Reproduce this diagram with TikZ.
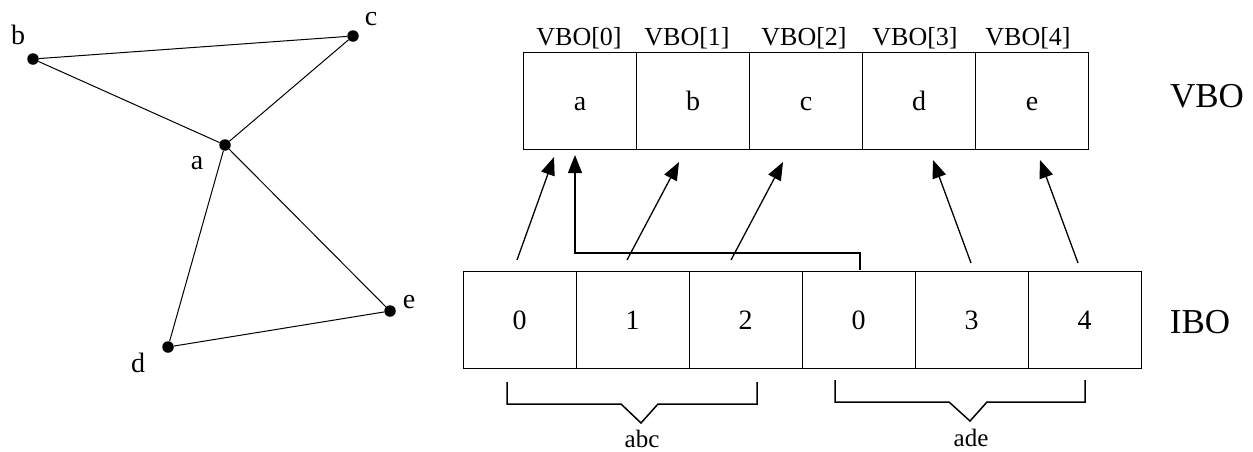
\documentclass[tikz,border=0pt]{standalone}
\usepackage{fontspec}
\setmainfont{Liberation Serif}
\usetikzlibrary{arrows.meta}
\tikzset{
  vert/.style={circle,fill=black,inner sep=0pt,minimum size=11.5pt},
  edge/.style={line width=1pt},
  glabel/.style={anchor=base,inner sep=0pt,font=\fontsize{28}{30}\selectfont},
  cell/.style={draw,line width=1pt,minimum width=113pt,minimum height=97pt,inner sep=0pt,
               text height=19pt,text depth=0pt,font=\fontsize{28}{30}\selectfont},
  idx/.style={anchor=base,inner sep=0pt,font=\fontsize{26}{28}\selectfont},
  big/.style={anchor=base,inner sep=0pt,font=\fontsize{35}{37}\selectfont},
  arr/.style={line width=1.3pt,-{Triangle[length=18pt,width=14pt]}},
  brace/.style={line width=1.5pt},
  blabel/.style={anchor=base,inner sep=0pt,font=\fontsize{25}{27}\selectfont}
}
\begin{document}
\begin{tikzpicture}[x=1pt,y=-1pt]
\useasboundingbox (0,0) rectangle (1253,451);
% graph
\node[vert] (a) at (225,145) {};
\node[vert] (b) at (33,59) {};
\node[vert] (c) at (353,36) {};
\node[vert] (d) at (168,347) {};
\node[vert] (e) at (390,311) {};
\draw[edge] (b) -- (c);
\draw[edge] (b) -- (a);
\draw[edge] (c) -- (a);
\draw[edge] (a) -- (d);
\draw[edge] (a) -- (e);
\draw[edge] (d) -- (e);
\node[glabel] (la) at (197,169) {a};
\node[glabel] (lb) at (18,44) {b};
\node[glabel] (lc) at (371,25) {c};
\node[glabel] (ld) at (138,372) {d};
\node[glabel] (le) at (409,308) {e};
% VBO
\node[cell] (v0) at (580,100.5) {a};
\node[cell] (v1) at (693,100.5) {b};
\node[cell] (v2) at (806,100.5) {c};
\node[cell] (v3) at (919,100.5) {d};
\node[cell] (v4) at (1032,100.5) {e};
\node[idx] (n0) at (579,45) {VBO[0]};
\node[idx] (n1) at (687,45) {VBO[1]};
\node[idx] (n2) at (804,45) {VBO[2]};
\node[idx] (n3) at (915,45) {VBO[3]};
\node[idx] (n4) at (1028,45) {VBO[4]};
\node[big] (vbo) at (1207,107) {VBO};
% IBO
\node[cell] (i0) at (519.5,319.5) {0};
\node[cell] (i1) at (632.5,319.5) {1};
\node[cell] (i2) at (745.5,319.5) {2};
\node[cell] (i3) at (858.5,319.5) {0};
\node[cell] (i4) at (971.5,319.5) {3};
\node[cell] (i5) at (1084.5,319.5) {4};
\node[big] (ibo) at (1200,333) {IBO};
% arrows
\coordinate (s1) at (517,260); \coordinate (t1) at (554,157);
\coordinate (s2) at (627,260); \coordinate (t2) at (679,162);
\coordinate (s3) at (731,260); \coordinate (t3) at (783,162);
\coordinate (s4) at (971,263); \coordinate (t4) at (933,160);
\coordinate (s5) at (1078,263); \coordinate (t5) at (1040,160);
\coordinate (s6) at (860,270); \coordinate (m6) at (575,253); \coordinate (t6) at (575,155);
\draw[arr] (s1) -- (t1);
\draw[arr] (s2) -- (t2);
\draw[arr] (s3) -- (t3);
\draw[arr] (s4) -- (t4);
\draw[arr] (s5) -- (t5);
\draw[arr] (s6) |- (m6) -- (t6);
% braces
\draw[brace] (507,382) -- (507,404) -- (621,404) -- (641,423) -- (658,404) -- (757,404) -- (757,382);
\draw[brace] (835,380) -- (835,402) -- (949,402) -- (970,421) -- (987,402) -- (1085,402) -- (1085,380);
\node[blabel] (abc) at (642,447) {abc};
\node[blabel] (ade) at (971,446) {ade};
\end{tikzpicture}
\end{document}
